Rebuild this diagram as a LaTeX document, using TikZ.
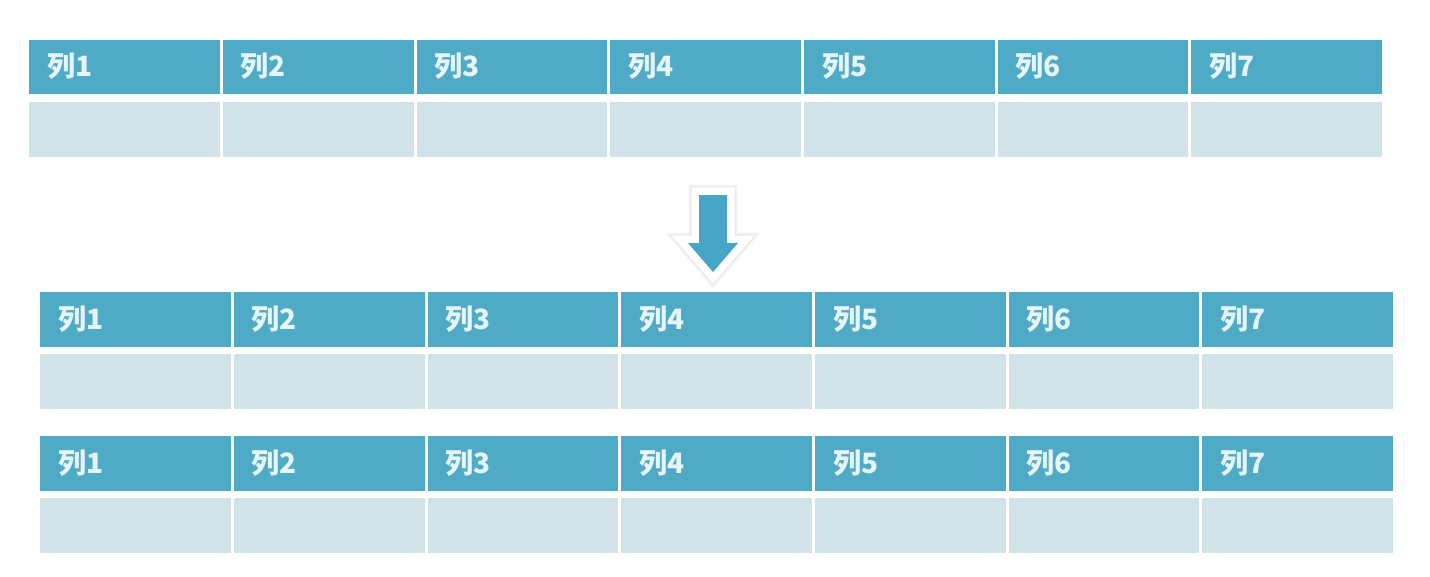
\documentclass[tikz,border=0pt]{standalone}
\usepackage{fontspec}
\newfontfamily\cjk{Noto Sans CJK SC}
\definecolor{hdrblue}{HTML}{4FAAC6}
\definecolor{bodyblue}{HTML}{D1E2E8}
\definecolor{hdrtxt}{HTML}{E6F5F9}
\definecolor{arrowblue}{HTML}{48A5C5}
\tikzset{
  hdrcell/.style={fill=hdrblue, draw=none, inner sep=0pt, anchor=north west, minimum width=190.7pt, minimum height=54.5pt},
  bodycell/.style={fill=bodyblue, draw=none, inner sep=0pt, anchor=north west, minimum width=190.7pt, minimum height=55pt},
  hdrtext/.style={text=hdrtxt, inner sep=0pt, anchor=west, font=\cjk\bfseries\fontsize{28}{28}\selectfont},
}
\begin{document}
\begin{tikzpicture}[x=1pt,y=-1pt]
\fill[white] (0,0) rectangle (1430,576);
\useasboundingbox (0,0) rectangle (1430,576);
\foreach \t/\xo/\yo in {1/29/39.5, 2/40/292, 3/40/436} {
  \foreach \i in {1,...,7} {
    \pgfmathsetmacro\xx{\xo+(\i-1)*193.7}
    \node[hdrcell] (h\t-\i) at (\xx,\yo) {};
    \node[hdrtext] (t\t-\i) at ([xshift=18pt,yshift=0.5pt]h\t-\i.west) {列\i};
    \node[bodycell] (b\t-\i) at (\xx,\yo+62) {};
  }
}
% arrow
\coordinate (a1) at (699,195);
\coordinate (a2) at (727,195);
\coordinate (a3) at (727,243);
\coordinate (a4) at (738,243);
\coordinate (a5) at (713,272);
\coordinate (a6) at (688,243);
\coordinate (a7) at (699,243);
\draw[gray!8, line width=21pt, line join=miter, fill=gray!8, yshift=-3pt] (a1) -- (a2) -- (a3) -- (a4) -- (a5) -- (a6) -- (a7) -- cycle;
\draw[gray!16, line width=18pt, line join=miter, fill=gray!16, yshift=-2pt] (a1) -- (a2) -- (a3) -- (a4) -- (a5) -- (a6) -- (a7) -- cycle;
\draw[white, line width=15pt, line join=miter, fill=white] (a1) -- (a2) -- (a3) -- (a4) -- (a5) -- (a6) -- (a7) -- cycle;
\fill[arrowblue] (a1) -- (a2) -- (a3) -- (a4) -- (a5) -- (a6) -- (a7) -- cycle;
\end{tikzpicture}
\end{document}
